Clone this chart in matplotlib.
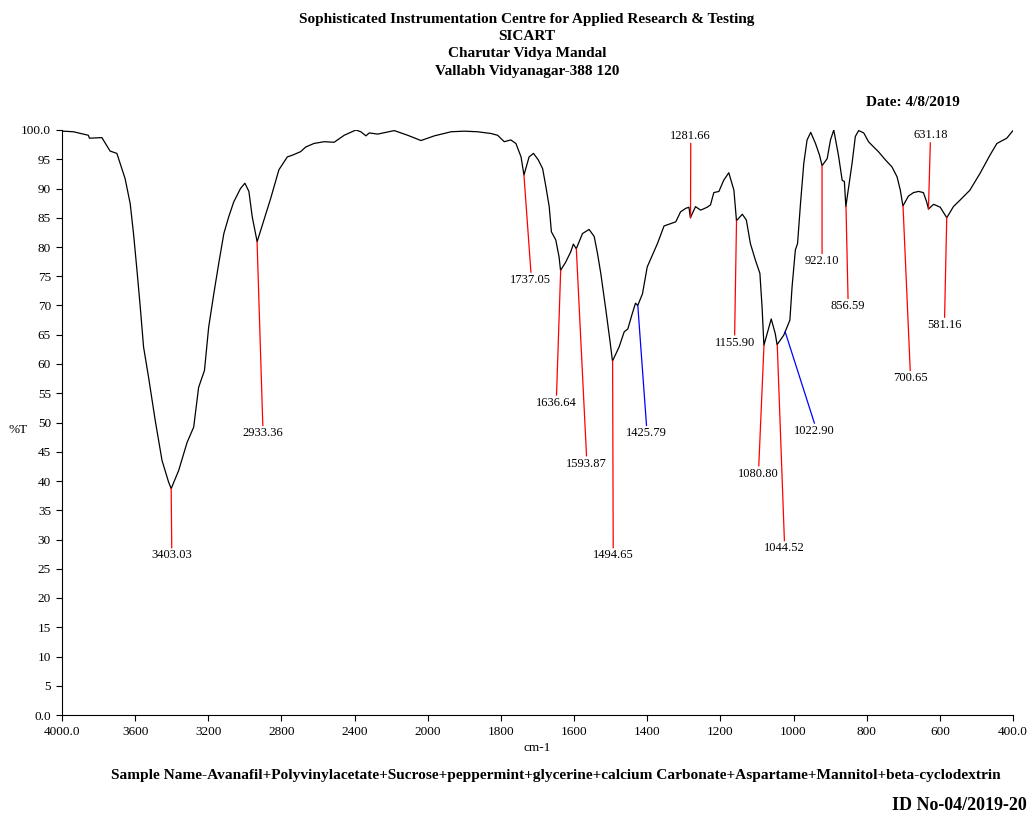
import numpy as np
import matplotlib
matplotlib.use('Agg')
import matplotlib.pyplot as plt

plt.rcParams['font.family'] = ['Liberation Serif', 'DejaVu Serif']

# spectrum: wavenumber (cm-1) and %T
wn = [4000, 3993, 3938, 3856, 3850, 3782, 3737, 3700, 3673, 3655, 3627, 3609, 3590,
      3572, 3554, 3527, 3490, 3453, 3417, 3403, 3362, 3316, 3280, 3253, 3221, 3198,
      3170, 3143, 3115, 3088, 3061, 3024, 3000, 2978, 2960, 2933, 2896, 2859, 2814,
      2768, 2740, 2695, 2667, 2622, 2567, 2512, 2457, 2393, 2366, 2338, 2320, 2274,
      2183, 2110, 2037, 1982, 1936, 1900, 1864, 1827, 1809, 1791, 1773, 1759, 1745,
      1737, 1723, 1711, 1698, 1686, 1677, 1668, 1662, 1650, 1641, 1637, 1623, 1609,
      1602, 1594, 1577, 1559, 1545, 1536, 1527, 1513, 1502, 1495, 1477, 1463, 1453,
      1441, 1432, 1426, 1413, 1400, 1386, 1372, 1354, 1336, 1322, 1309, 1295, 1286,
      1282, 1268, 1254, 1236, 1227, 1218, 1204, 1191, 1177, 1163, 1156, 1140, 1129,
      1118, 1104, 1092, 1086, 1081, 1061, 1050, 1045, 1027, 1023, 1010, 1004, 995,
      989, 981, 972, 963, 953, 940, 929, 922, 908, 899, 890, 877, 867, 861, 857, 840,
      831, 822, 808, 795, 781, 768, 749, 731, 717, 708, 701, 686, 672, 658, 645, 636,
      631, 617, 599, 581, 563, 545, 518, 490, 463, 444, 417, 400]
trans = [99.8, 99.8, 99.7, 99.1, 98.6, 98.7, 96.4, 96.0, 93.4, 91.7, 87.4, 82.3, 76.0,
         69.7, 62.9, 57.8, 50.3, 43.5, 39.8, 38.7, 41.8, 46.6, 49.2, 56.0, 58.9, 66.3,
         72.0, 77.2, 82.3, 85.2, 87.7, 90.0, 90.9, 89.5, 85.2, 80.9, 84.6, 88.3, 93.2,
         95.4, 95.7, 96.3, 97.1, 97.7, 98.0, 97.9, 99.1, 100.0, 99.7, 99.0, 99.5, 99.3,
         99.9, 99.1, 98.2, 99.0, 99.7, 99.8, 99.7, 99.4, 99.1, 98.0, 98.3, 97.7, 95.4,
         92.3, 95.4, 96.0, 94.9, 93.4, 90.3, 86.9, 82.6, 81.2, 78.3, 76.0, 77.4, 79.2,
         80.5, 79.7, 82.3, 83.0, 81.8, 78.9, 75.5, 69.2, 64.0, 60.5, 62.9, 65.5, 66.0,
         68.6, 70.4, 70.0, 72.0, 76.6, 78.6, 80.6, 83.6, 84.0, 84.3, 86.0, 86.6, 86.8,
         85.0, 86.9, 86.3, 86.8, 87.2, 89.3, 89.5, 91.4, 92.7, 89.7, 84.5, 85.6, 84.6,
         80.6, 77.7, 75.5, 69.7, 63.2, 67.7, 65.2, 63.3, 64.9, 65.5, 67.5, 73.2, 79.5,
         80.6, 87.4, 94.3, 98.3, 99.6, 97.7, 95.7, 93.9, 95.1, 98.3, 100.0, 95.6, 91.4, 91.2, 86.9, 94.3,
         98.9, 99.9, 99.5, 98.0, 97.1, 96.3, 94.9, 93.7, 92.0, 89.7, 87.0, 88.7, 89.3, 89.5, 89.3, 87.7,
         86.5, 87.3, 86.8, 85.0, 86.9, 88.0, 89.7, 92.6, 95.7, 97.7, 98.6, 99.9]

# peak picks: label, point on curve, end of the leader line
peak_labels = ['3403.03', '2933.36', '1737.05', '1636.64', '1593.87', '1494.65', '1425.79',
               '1281.66', '1155.90', '1080.80', '1044.52', '1022.90', '922.10', '856.59',
               '700.65', '631.18', '581.16']
peak_wn = [3403.03, 2933.36, 1737.05, 1636.64, 1593.87, 1494.65, 1425.79, 1281.66,
           1155.90, 1080.80, 1044.52, 1022.90, 922.10, 856.59, 700.65, 631.18, 581.16]
peak_t = [38.7, 80.9, 92.3, 76.0, 79.7, 60.5, 70.0, 85.0, 84.5, 63.2, 63.3, 65.5,
          93.9, 86.9, 87.0, 86.5, 85.0]
end_wn = [3400, 2902, 1718, 1648, 1566, 1493, 1402, 1281, 1161, 1095, 1025, 943,
          922, 851, 681, 626, 587]
end_t = [28.6, 49.5, 75.7, 54.7, 44.3, 28.6, 49.5, 97.7, 65.0, 42.6, 29.8, 49.9,
         78.9, 71.2, 58.9, 97.8, 68.0]
peak_colors = ['red'] * 6 + ['blue'] + ['red'] * 4 + ['blue'] + ['red'] * 5

x_ticks = [4000, 3600, 3200, 2800, 2400, 2000, 1800, 1600, 1400, 1200, 1000, 800, 600, 400]
x_ticklabels = ['4000.0', '3600', '3200', '2800', '2400', '2000', '1800', '1600',
                '1400', '1200', '1000', '800', '600', '400.0']
y_ticks = list(range(0, 101, 5))
y_ticklabels = ['0.0'] + [str(v) for v in range(5, 100, 5)] + ['100.0']


def fwd(x):
    # above 2000 cm-1 the chart is compressed by half
    x = np.asarray(x, dtype=float)
    return np.where(x > 2000, 2000 + (x - 2000) * 0.5, x)


def inv(y):
    y = np.asarray(y, dtype=float)
    return np.where(y > 2000, 2000 + (y - 2000) * 2.0, y)


fig = plt.figure(figsize=(10.3, 8.14), dpi=100)
ax = fig.add_axes([62 / 1030, 1 - 715 / 814, (1013 - 62) / 1030, (715 - 130) / 814])
ax.set_xscale('function', functions=(fwd, inv))
ax.set_xlim(4000, 400)
ax.set_ylim(0, 100)

ax.plot(wn, trans, color='black', lw=0.9)

for lab, pw, pt, ew, et, c in zip(peak_labels, peak_wn, peak_t, end_wn, end_t, peak_colors):
    ax.plot([pw, ew], [pt, et], color=c, lw=0.9)
    if et > pt:
        ax.text(ew, et + 0.3, lab, ha='center', va='bottom', fontsize=9)
    else:
        ax.text(ew, et - 0.3, lab, ha='center', va='top', fontsize=9)

ax.set_xticks(x_ticks)
ax.set_xticklabels(x_ticklabels)
ax.set_yticks(y_ticks)
ax.set_yticklabels(y_ticklabels)
ax.minorticks_off()
ax.tick_params(labelsize=9.5, length=4, width=0.8, direction='out', pad=4)
for side in ['top', 'right']:
    ax.spines[side].set_visible(False)
for side in ['left', 'bottom']:
    ax.spines[side].set_linewidth(0.8)

fig.text(537 / 1030, 1 - 748 / 814, 'cm-1', ha='center', va='center', fontsize=9.5)
fig.text(18 / 1030, 1 - 430 / 814, '%T', ha='center', va='center', fontsize=9.5)

header = ['Sophisticated Instrumentation Centre for Applied Research & Testing',
          'SICART', 'Charutar Vidya Mandal', 'Vallabh Vidyanagar-388 120']
for i, line in enumerate(header):
    fig.text(527 / 1030, 1 - (20 + 17 * i) / 814, line, ha='center', va='center',
             fontsize=11, fontweight='bold')
fig.text(960 / 1030, 1 - 102 / 814, 'Date: 4/8/2019', ha='right', va='center',
         fontsize=11, fontweight='bold')
fig.text(556 / 1030, 1 - 776 / 814,
         'Sample Name-Avanafil+Polyvinylacetate+Sucrose+peppermint+glycerine+calcium '
         'Carbonate+Aspartame+Mannitol+beta-cyclodextrin',
         ha='center', va='center', fontsize=11.1, fontweight='bold')
fig.text(1027 / 1030, 1 - 806 / 814, 'ID No-04/2019-20', ha='right', va='center',
         fontsize=13, fontweight='bold')

fig.savefig('out.png', dpi=100)
